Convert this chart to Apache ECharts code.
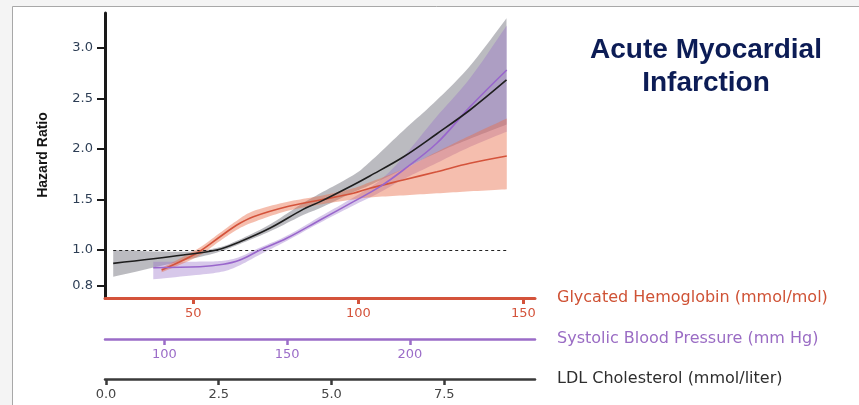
<!DOCTYPE html>
<html>
<head>
<meta charset="utf-8">
<script src="https://cdn.jsdelivr.net/npm/echarts@6/dist/echarts.min.js"></script>
<style>
html,body{margin:0;padding:0;background:#f4f4f4;}
#chart{width:859px;height:405px;}
</style>
</head>
<body>
<div id="chart"></div>
<script>
// ---- data ----
const yTicks = [0.8, 1.0, 1.5, 2.0, 2.5, 3.0];
const hba1cTicks = [50, 100, 150];
const sbpTicks = [100, 150, 200];
const ldlTicks = [0, 2.5, 5, 7.5];
const refHR = 1.0;

// Glycated hemoglobin (mmol/mol)
const hba1cX  = [40.4, 51.0, 58.1, 63.2, 68.2, 78.3, 88.4, 98.5, 103.5, 113.6, 123.8, 133.8, 145.0];
const hba1cHR = [0.888, 0.982, 1.131, 1.247, 1.329, 1.428, 1.494, 1.561, 1.61, 1.692, 1.774, 1.857, 1.929];
const hba1cLo = [0.875, 0.96, 1.09, 1.20, 1.275, 1.385, 1.45, 1.50, 1.52, 1.54, 1.56, 1.58, 1.60];
const hba1cHi = [0.90, 1.005, 1.17, 1.29, 1.385, 1.475, 1.535, 1.61, 1.67, 1.80, 1.97, 2.13, 2.30];

// Systolic blood pressure (mm Hg)
const sbpX  = [95.5, 114.5, 124.0, 130.8, 139.0, 149.8, 163.4, 177.0, 187.8, 197.3, 210.9, 224.5, 239.4];
const sbpHR = [0.901, 0.906, 0.920, 0.944, 1.0, 1.116, 1.297, 1.478, 1.626, 1.791, 2.055, 2.417, 2.78];
const sbpLo = [0.836, 0.862, 0.88, 0.915, 0.975, 1.09, 1.27, 1.44, 1.57, 1.70, 1.86, 2.02, 2.17];
const sbpHi = [0.934, 0.935, 0.94, 0.962, 1.025, 1.14, 1.33, 1.52, 1.69, 1.92, 2.32, 2.70, 3.22];

// LDL cholesterol (mmol/liter)
const ldlX  = [0.16, 1.71, 2.45, 2.97, 3.64, 4.37, 4.75, 5.48, 5.85, 6.59, 7.33, 8.07, 8.88];
const ldlHR = [0.925, 0.972, 1.0, 1.082, 1.217, 1.402, 1.478, 1.643, 1.732, 1.919, 2.147, 2.384, 2.681];
const ldlLo = [0.85, 0.94, 0.985, 1.06, 1.185, 1.345, 1.415, 1.57, 1.64, 1.80, 1.96, 2.10, 2.24];
const ldlHi = [1.0, 0.99, 1.02, 1.105, 1.255, 1.465, 1.56, 1.74, 1.87, 2.18, 2.48, 2.82, 3.29];

// ---- y scale: stretched below 1.0 as in the original figure ----
const K = 1.765;
function disp(hr){ return hr >= 1 ? hr : 1 - (1 - hr) * K; }
function inv(d){ return d >= 1 ? d : 1 - (1 - d) / K; }

function spline(p, n){
  n = n || 10;
  const out = [];
  for (let i = 0; i < p.length - 1; i++){
    const p0 = p[Math.max(i-1,0)], p1 = p[i], p2 = p[i+1], p3 = p[Math.min(i+2,p.length-1)];
    for (let k = 0; k < n; k++){
      const t = k/n, t2 = t*t, t3 = t2*t;
      const f = j => 0.5*((2*p1[j]) + (-p0[j]+p2[j])*t + (2*p0[j]-5*p1[j]+4*p2[j]-p3[j])*t2 + (-p0[j]+3*p1[j]-3*p2[j]+p3[j])*t3);
      out.push([f(0), f(1)]);
    }
  }
  out.push(p[p.length-1]);
  return out;
}

function bandSeries(xi, xs, lo, hi, fill, z){
  return {
    type: 'custom', xAxisIndex: xi, z: z, silent: true,
    data: xs.map((x,i)=>[x, disp(lo[i]), disp(hi[i])]),
    encode: {x: 0, y: [1, 2]},
    renderItem: function(params, api){
      if (params.dataIndex !== 0) return;
      const top = xs.map((x,i)=>api.coord([x, disp(hi[i])]));
      const bot = xs.map((x,i)=>api.coord([x, disp(lo[i])]));
      const pts = spline(top).concat(spline(bot).reverse());
      return {type: 'polygon', shape: {points: pts}, style: {fill: fill, stroke: null}};
    }
  };
}
function lineSeries(xi, xs, hr, color, z, extra){
  return Object.assign({
    type: 'line', xAxisIndex: xi, z: z, silent: true,
    data: xs.map((x,i)=>[x, disp(hr[i])]),
    showSymbol: false, smooth: 0.35,
    lineStyle: {color: color, width: 1.6}
  }, extra || {});
}

function xAxisDef(opts){
  return {
    type: 'value', position: 'bottom', offset: opts.offset,
    min: opts.min, max: opts.max,
    name: opts.name, nameLocation: 'end', nameGap: 22,
    nameTextStyle: {color: opts.nameColor, fontSize: 16, fontFamily: 'DejaVu Sans', align: 'left', verticalAlign: 'middle'},
    axisLine: {show: true, onZero: false, lineStyle: {color: opts.color, width: opts.lw}},
    axisTick: {show: true, customValues: opts.ticks, length: 6, lineStyle: {color: opts.color, width: opts.lw}},
    axisLabel: {customValues: opts.ticks, color: opts.labelColor, fontSize: 13, fontFamily: 'DejaVu Sans', margin: 9,
                formatter: opts.fmt},
    splitLine: {show: false}
  };
}

const chart = echarts.init(document.getElementById('chart'), null, {renderer: 'canvas'});
chart.setOption({
  backgroundColor: '#f4f4f4',
  animation: false,
  grid: {left: 105, right: 324, top: 13, bottom: 107},
  graphic: [
    {type: 'rect', z: -100, shape: {x: 12.5, y: 6.5, width: 1000, height: 600},
     style: {fill: '#ffffff', stroke: '#a8a8a8', lineWidth: 1}},
    {type: 'text', z: 10, x: 706, y: 67, style: {
      text: 'Acute Myocardial\nInfarction', fill: '#0c1c55',
      font: 'bold 28px "Liberation Sans", Arial, sans-serif', align: 'center', verticalAlign: 'middle', lineHeight: 33}},
    {type: 'text', z: 10, x: 43, y: 155, rotation: Math.PI/2, style: {
      text: 'Hazard Ratio', fill: '#141414',
      font: 'bold 14px "Liberation Sans", sans-serif', align: 'center', verticalAlign: 'middle'}}
  ],
  xAxis: [
    xAxisDef({offset: 0, min: 23.24, max: 153.55, name: 'Glycated Hemoglobin (mmol/mol)', nameColor: '#cf5235',
              color: '#d4533b', lw: 3, ticks: hba1cTicks, labelColor: '#d4533b', fmt: v => String(v)}),
    xAxisDef({offset: 41, min: 75.85, max: 250.9, name: 'Systolic Blood Pressure (mm Hg)', nameColor: '#9a6cc4',
              color: '#9b6cc8', lw: 2.5, ticks: sbpTicks, labelColor: '#9b6cc8', fmt: v => String(v)}),
    xAxisDef({offset: 81, min: -0.022, max: 9.512, name: 'LDL Cholesterol (mmol/liter)', nameColor: '#2e2e2e',
              color: '#3a3a3a', lw: 2.5, ticks: ldlTicks, labelColor: '#444444', fmt: v => v.toFixed(1)})
  ],
  yAxis: {
    type: 'value', min: 0.5255, max: 3.343,
    axisLine: {show: true, onZero: false, lineStyle: {color: '#1a1a1a', width: 3}},
    axisTick: {show: true, customValues: yTicks.map(disp), length: 8, lineStyle: {color: '#1a1a1a', width: 2}},
    axisLabel: {customValues: yTicks.map(disp), color: '#2d3e55', fontSize: 13, fontFamily: 'DejaVu Sans', margin: 12,
                formatter: v => inv(v).toFixed(1)},
    splitLine: {show: false}
  },
  series: [
    bandSeries(2, ldlX, ldlLo, ldlHi, 'rgba(105,105,115,0.45)', 1),
    bandSeries(1, sbpX, sbpLo, sbpHi, 'rgba(150,110,200,0.38)', 2),
    bandSeries(0, hba1cX, hba1cLo, hba1cHi, 'rgba(232,110,75,0.45)', 3),
    lineSeries(0, hba1cX, hba1cHR, '#d4533b', 5),
    lineSeries(1, sbpX, sbpHR, '#9966cc', 6),
    lineSeries(2, ldlX, ldlHR, '#1e1e1e', 7, {
      markLine: {
        silent: true, symbol: 'none', label: {show: false},
        lineStyle: {color: '#222222', width: 1.2, type: [3, 3]},
        data: [[{coord: [ldlX[0], disp(refHR)]}, {coord: [ldlX[ldlX.length-1], disp(refHR)]}]]
      }
    })
  ]
});
</script>
</body>
</html>
